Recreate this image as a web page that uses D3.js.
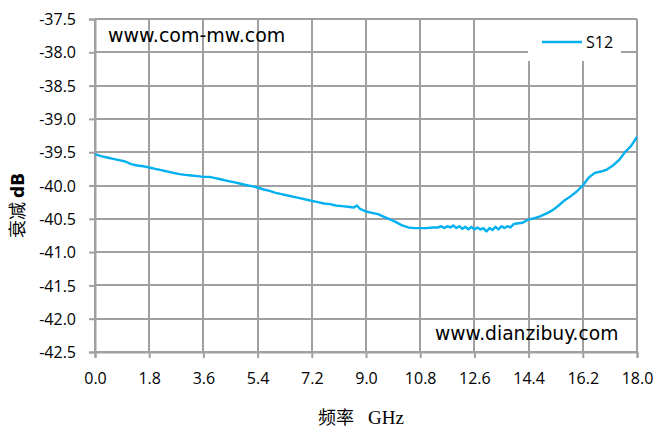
<!DOCTYPE html>
<html>
<head>
<meta charset="utf-8">
<script src="https://cdn.jsdelivr.net/npm/d3@7"></script>
<style>
  body { margin: 0; background: #fff; }
  svg text { fill: #000; }
</style>
</head>
<body>
<svg id="viz"></svg>
<script>
const width = 658;
const height = 428;
const margin = { top: 19, right: 21, bottom: 76, left: 95 };

// frequency (GHz) and S12 attenuation (dB)
const freq = [
  0.0, 0.2, 0.4, 0.6, 0.8, 1.0, 1.2, 1.4, 1.6, 1.8, 2.0, 2.2, 2.4, 2.6, 2.8,
  3.0, 3.2, 3.4, 3.6, 3.8, 4.0, 4.2, 4.4, 4.6, 4.8, 5.0, 5.2, 5.4, 5.6, 5.8,
  6.0, 6.2, 6.4, 6.6, 6.8, 7.0, 7.2, 7.4, 7.6, 7.8, 8.0, 8.2, 8.4, 8.6, 8.7,
  8.8, 9.0, 9.2, 9.4, 9.6, 9.8, 10.0, 10.2, 10.4, 10.6, 10.8, 11.0, 11.2, 11.4,
  11.5, 11.6, 11.7, 11.8, 11.9, 12.0, 12.1, 12.2, 12.3, 12.4, 12.5, 12.6, 12.7,
  12.8, 12.9, 13.0, 13.1, 13.2, 13.3, 13.4, 13.5, 13.6, 13.7, 13.8, 13.9, 14.0,
  14.2, 14.4, 14.6, 14.8, 15.0, 15.2, 15.4, 15.6, 15.8, 16.0, 16.2, 16.4, 16.6,
  16.8, 17.0, 17.2, 17.4, 17.6, 17.8, 18.0
];
const s12 = [
  -39.53, -39.56, -39.58, -39.60, -39.62, -39.64, -39.68, -39.70, -39.71, -39.73,
  -39.75, -39.77, -39.79, -39.81, -39.83, -39.84, -39.85, -39.86, -39.87, -39.87,
  -39.89, -39.91, -39.93, -39.95, -39.97, -39.99, -40.01, -40.03, -40.06, -40.08,
  -40.11, -40.13, -40.15, -40.17, -40.19, -40.21, -40.23, -40.25, -40.27, -40.28,
  -40.30, -40.31, -40.32, -40.33, -40.30, -40.35, -40.39, -40.41, -40.43, -40.47,
  -40.51, -40.55, -40.60, -40.63, -40.64, -40.64, -40.64, -40.63, -40.63,
  -40.61, -40.64, -40.61, -40.63, -40.60, -40.64, -40.61, -40.65, -40.62, -40.66,
  -40.62, -40.66, -40.63, -40.66, -40.64, -40.69, -40.64, -40.67, -40.62, -40.66,
  -40.61, -40.64, -40.61, -40.63, -40.58, -40.57, -40.56, -40.51, -40.49, -40.46,
  -40.42, -40.37, -40.30, -40.22, -40.16, -40.09, -40.00, -39.88, -39.81, -39.79,
  -39.76, -39.70, -39.62, -39.50, -39.41, -39.27
];

const xTicks = [0, 1.8, 3.6, 5.4, 7.2, 9.0, 10.8, 12.6, 14.4, 16.2, 18.0];
const yTicks = [-37.5, -38.0, -38.5, -39.0, -39.5, -40.0, -40.5, -41.0, -41.5, -42.0, -42.5];

const w = width - margin.left - margin.right;
const h = height - margin.top - margin.bottom;

const svg = d3.select('#viz').attr('width', width).attr('height', height);
const g = svg.append('g').attr('transform', 'translate(' + margin.left + ',' + margin.top + ')');

const x = d3.scaleLinear().domain([0, 18]).range([0, w]);
const y = d3.scaleLinear().domain([-42.5, -37.5]).range([h, 0]);

const gridColor = '#a0a0a0';
const tickFont = '"Open Sans", "Noto Sans", sans-serif';
const fmt = d => d.toFixed(1); // plain hyphen, like the original

// grid
g.append('g')
  .selectAll('line')
  .data(yTicks)
  .join('line')
  .attr('x1', 0)
  .attr('x2', w)
  .attr('y1', d => Math.round(y(d)))
  .attr('y2', d => Math.round(y(d)))
  .attr('stroke', gridColor)
  .attr('stroke-width', 2);

g.append('g')
  .selectAll('line')
  .data(xTicks)
  .join('line')
  .attr('x1', d => Math.round(x(d)))
  .attr('x2', d => Math.round(x(d)))
  .attr('y1', 0)
  .attr('y2', h)
  .attr('stroke', gridColor)
  .attr('stroke-width', 2);

// axes
const xAxis = g.append('g')
  .attr('transform', 'translate(0,' + h + ')')
  .call(d3.axisBottom(x).tickValues(xTicks).tickSize(6).tickFormat(fmt));
const yAxis = g.append('g')
  .call(d3.axisLeft(y).tickValues(yTicks).tickSize(6).tickFormat(fmt));

[xAxis, yAxis].forEach(a => {
  a.select('.domain').attr('stroke', gridColor).attr('stroke-width', 2);
  a.selectAll('.tick line').attr('stroke', gridColor).attr('stroke-width', 2);
  a.selectAll('.tick text')
    .attr('font-family', tickFont)
    .attr('font-size', 16)
    .attr('fill', '#000');
});
xAxis.selectAll('.tick text').attr('dy', '1.2em').attr('transform', 'translate(0,4)');
yAxis.selectAll('.tick text').attr('x', -19).attr('dy', '0.35em');

// S12 trace
const line = d3.line()
  .x((d, i) => x(freq[i]))
  .y(d => y(d));

g.append('path')
  .datum(s12)
  .attr('fill', 'none')
  .attr('stroke', '#00b0f0')
  .attr('stroke-width', 2.4)
  .attr('stroke-linejoin', 'round')
  .attr('d', line);

// legend
const leg = g.append('g').attr('transform', 'translate(' + (w - 109) + ',1)');
leg.append('rect')
  .attr('width', 93)
  .attr('height', 41)
  .attr('fill', '#fff');
leg.append('line')
  .attr('x1', 14)
  .attr('x2', 54)
  .attr('y1', 22)
  .attr('y2', 22)
  .attr('stroke', '#00b0f0')
  .attr('stroke-width', 2.4);
leg.append('text')
  .attr('x', 58)
  .attr('y', 28)
  .attr('font-family', tickFont)
  .attr('font-size', 16)
  .text('S12');

// watermarks
svg.append('text')
  .attr('x', 108)
  .attr('y', 42)
  .attr('font-family', '"DejaVu Sans", sans-serif')
  .attr('font-size', 19)
  .text('www.com-mw.com');

svg.append('text')
  .attr('x', 435)
  .attr('y', 340)
  .attr('font-family', '"DejaVu Sans", sans-serif')
  .attr('font-size', 18.7)
  .text('www.dianzibuy.com');

// axis titles
const yTitle = svg.append('text')
  .attr('transform', 'translate(24,238) rotate(-90)')
  .attr('font-size', 18);
yTitle.append('tspan')
  .attr('font-family', '"Noto Sans CJK SC", serif')
  .text('衰减');
yTitle.append('tspan')
  .attr('dx', 4)
  .attr('font-family', '"DejaVu Sans", sans-serif')
  .attr('font-weight', 'bold')
  .attr('font-size', 17)
  .text('dB');

svg.append('text')
  .attr('x', 318)
  .attr('y', 424)
  .attr('font-family', '"Noto Sans CJK SC", serif')
  .attr('font-size', 18)
  .text('频率');
svg.append('text')
  .attr('x', 368)
  .attr('y', 424)
  .attr('font-family', '"Liberation Serif", serif')
  .attr('font-size', 19)
  .text('GHz');
</script>
</body>
</html>
